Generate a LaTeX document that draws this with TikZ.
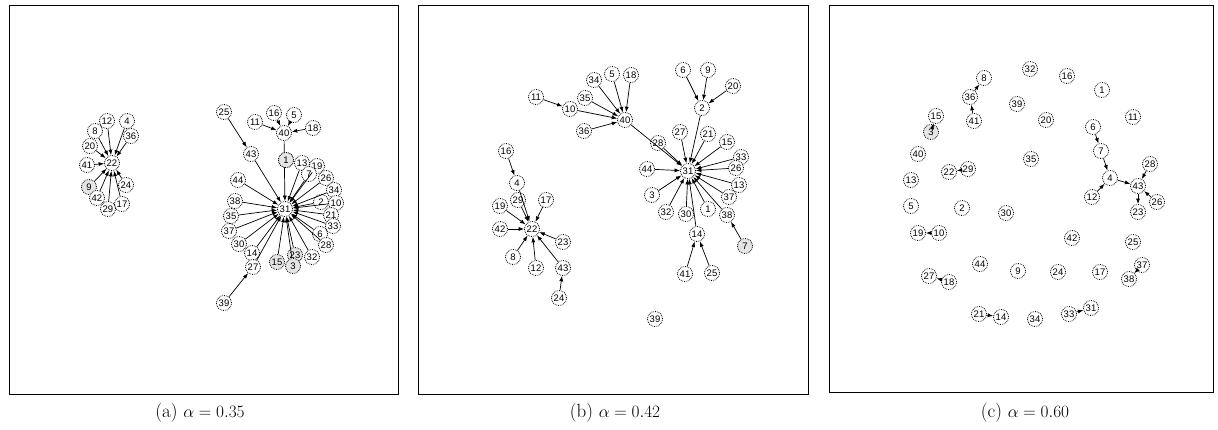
\documentclass[tikz,border=0pt]{standalone}
\usepackage{amsmath,amssymb}
\usepackage{fontspec}
\usepackage{tikz}
\usetikzlibrary{shapes.geometric, arrows.meta}
\newfontfamily\vtxfont{Liberation Sans}
\tikzstyle{vtx} = [circle, draw=black, densely dotted, line width=0.8pt, fill=white, minimum size=15pt, inner sep=0pt, font=\vtxfont\fontsize{9.5}{9.5}\selectfont]
\tikzstyle{greyvtx} = [vtx, fill=black!10]
\tikzstyle{conn} = [-{Latex[length=5.5pt,width=4pt]}, line width=0.7pt]
\tikzstyle{panel} = [draw, line width=0.9pt]
\tikzstyle{caption} = [font=\fontsize{19}{22}\selectfont]

\begin{document}
\begin{tikzpicture}[x=1pt, y=-1pt]
    \useasboundingbox (0,0) rectangle (1218,430);
    % Panels
    \draw [panel] (9,5) rectangle (398,394);
    \draw [panel] (418,5) rectangle (808,394);
    \draw [panel] (829,5) rectangle (1213,392);
    \node [caption] (capa) at (200,413) {(a) $\alpha = 0.35$};
    \node [caption] (capb) at (615,413) {(b) $\alpha = 0.42$};
    \node [caption] (capc) at (1025,413) {(c) $\alpha = 0.60$};

    % (a) left cluster
    \node [vtx] (a22) at (112,163) {22};
    \node [vtx] (a12) at (107,121) {12};
    \node [vtx] (a4) at (127,121) {4};
    \node [vtx] (a8) at (95,131) {8};
    \node [vtx] (a36) at (131,136) {36};
    \node [vtx] (a20) at (90,146) {20};
    \node [vtx] (a41) at (87,165) {41};
    \node [greyvtx] (a9) at (89,187) {9};
    \node [vtx] (a24) at (126,185) {24};
    \node [vtx] (a42) at (97,198) {42};
    \node [vtx] (a17) at (122,204) {17};
    \node [vtx] (a29) at (108,209) {29};

    % (a) right cluster
    \node [vtx] (a31) at (285,209) {31};
    \node [vtx] (a11) at (255,122) {11};
    \node [vtx] (a16) at (274,113) {16};
    \node [vtx] (a5) at (294,115) {5};
    \node [vtx] (a18) at (313,128) {18};
    \node [vtx] (a40) at (284,133) {40};
    \node [vtx] (a25) at (224,112) {25};
    \node [vtx] (a43) at (251,154) {43};
    \node [greyvtx] (a1) at (286,160) {1};
    \node [vtx] (a13) at (302,163) {13};
    \node [vtx] (a19) at (317,166) {19};
    \node [vtx] (a7) at (309,174) {7};
    \node [vtx] (a26) at (326,178) {26};
    \node [vtx] (a44) at (238,180) {44};
    \node [vtx] (a34) at (334,190) {34};
    \node [vtx] (a2) at (321,202) {2};
    \node [vtx] (a10) at (336,203) {10};
    \node [vtx] (a38) at (235,201) {38};
    \node [vtx] (a35) at (231,216) {35};
    \node [vtx] (a21) at (331,215) {21};
    \node [vtx] (a33) at (333,226) {33};
    \node [vtx] (a37) at (229,231) {37};
    \node [vtx] (a6) at (320,234) {6};
    \node [vtx] (a30) at (239,244) {30};
    \node [vtx] (a28) at (326,245) {28};
    \node [vtx] (a14) at (252,253) {14};
    \node [greyvtx] (a23) at (295,255) {23};
    \node [vtx] (a32) at (312,257) {32};
    \node [greyvtx] (a15) at (277,262) {15};
    \node [greyvtx] (a3) at (293,266) {3};
    \node [vtx] (a27) at (253,267) {27};
    \node [vtx] (a39) at (224,303) {39};

    % (a) connectors
    \draw [conn] (a12) -- (a22);
    \draw [conn] (a4) -- (a22);
    \draw [conn] (a8) -- (a22);
    \draw [conn] (a36) -- (a22);
    \draw [conn] (a20) -- (a22);
    \draw [conn] (a41) -- (a22);
    \draw [conn] (a9) -- (a22);
    \draw [conn] (a24) -- (a22);
    \draw [conn] (a42) -- (a22);
    \draw [conn] (a17) -- (a22);
    \draw [conn] (a29) -- (a22);
    \draw [conn] (a11) -- (a40);
    \draw [conn] (a16) -- (a40);
    \draw [conn] (a5) -- (a40);
    \draw [conn] (a18) -- (a40);
    \draw [conn] (a25) -- (a43);
    \draw [conn] (a39) -- (a27);
    \draw [conn] (a40) -- (a31);
    \draw [conn] (a43) -- (a31);
    \draw [conn] (a13) -- (a31);
    \draw [conn] (a19) -- (a31);
    \draw [conn] (a7) -- (a31);
    \draw [conn] (a26) -- (a31);
    \draw [conn] (a44) -- (a31);
    \draw [conn] (a34) -- (a31);
    \draw [conn] (a2) -- (a31);
    \draw [conn] (a10) -- (a31);
    \draw [conn] (a38) -- (a31);
    \draw [conn] (a35) -- (a31);
    \draw [conn] (a21) -- (a31);
    \draw [conn] (a33) -- (a31);
    \draw [conn] (a37) -- (a31);
    \draw [conn] (a6) -- (a31);
    \draw [conn] (a30) -- (a31);
    \draw [conn] (a28) -- (a31);
    \draw [conn] (a14) -- (a31);
    \draw [conn] (a23) -- (a31);
    \draw [conn] (a32) -- (a31);
    \draw [conn] (a15) -- (a31);
    \draw [conn] (a3) -- (a31);
    \draw [conn] (a27) -- (a31);
    \node [greyvtx] at (a1) {1};

    % (b) nodes
    \node [vtx] (b31) at (688,171) {31};
    \node [vtx] (b40) at (625,120) {40};
    \node [vtx] (b34) at (594,80) {34};
    \node [vtx] (b5) at (612,74) {5};
    \node [vtx] (b18) at (631,75) {18};
    \node [vtx] (b11) at (536,97) {11};
    \node [vtx] (b35) at (585,98) {35};
    \node [vtx] (b10) at (570,109) {10};
    \node [vtx] (b36) at (584,131) {36};
    \node [vtx] (b28) at (658,143) {28};
    \node [vtx] (b6) at (683,70) {6};
    \node [vtx] (b9) at (708,70) {9};
    \node [vtx] (b20) at (733,86) {20};
    \node [vtx] (b2) at (702,108) {2};
    \node [vtx] (b27) at (680,132) {27};
    \node [vtx] (b21) at (708,134) {21};
    \node [vtx] (b15) at (727,142) {15};
    \node [vtx] (b33) at (741,157) {33};
    \node [vtx] (b26) at (736,168) {26};
    \node [vtx] (b44) at (647,169) {44};
    \node [vtx] (b13) at (739,185) {13};
    \node [vtx] (b3) at (652,195) {3};
    \node [vtx] (b37) at (729,197) {37};
    \node [vtx] (b32) at (666,212) {32};
    \node [vtx] (b30) at (686,214) {30};
    \node [vtx] (b1) at (708,209) {1};
    \node [vtx] (b38) at (727,215) {38};
    \node [vtx] (b14) at (697,234) {14};
    \node [greyvtx] (b7) at (745,246) {7};
    \node [vtx] (b41) at (685,274) {41};
    \node [vtx] (b25) at (712,273) {25};
    \node [vtx] (b39) at (655,319) {39};
    \node [vtx] (b22) at (532,229) {22};
    \node [vtx] (b16) at (506,151) {16};
    \node [vtx] (b4) at (517,183) {4};
    \node [vtx] (b29) at (518,200) {29};
    \node [vtx] (b17) at (546,200) {17};
    \node [vtx] (b19) at (500,206) {19};
    \node [vtx] (b42) at (500,229) {42};
    \node [vtx] (b23) at (563,242) {23};
    \node [vtx] (b8) at (513,257) {8};
    \node [vtx] (b12) at (536,268) {12};
    \node [vtx] (b43) at (563,268) {43};
    \node [vtx] (b24) at (559,298) {24};

    % (b) connectors
    \draw [conn] (b11) -- (b10);
    \draw [conn] (b10) -- (b40);
    \draw [conn] (b34) -- (b40);
    \draw [conn] (b35) -- (b40);
    \draw [conn] (b5) -- (b40);
    \draw [conn] (b18) -- (b40);
    \draw [conn] (b36) -- (b40);
    \draw [conn] (b40) -- (b31);
    \draw [conn] (b28) -- (b31);
    \draw [conn] (b6) -- (b2);
    \draw [conn] (b9) -- (b2);
    \draw [conn] (b20) -- (b2);
    \draw [conn] (b2) -- (b31);
    \draw [conn] (b27) -- (b31);
    \draw [conn] (b21) -- (b31);
    \draw [conn] (b15) -- (b31);
    \draw [conn] (b33) -- (b31);
    \draw [conn] (b26) -- (b31);
    \draw [conn] (b44) -- (b31);
    \draw [conn] (b13) -- (b31);
    \draw [conn] (b3) -- (b31);
    \draw [conn] (b37) -- (b31);
    \draw [conn] (b32) -- (b31);
    \draw [conn] (b30) -- (b31);
    \draw [conn] (b1) -- (b31);
    \draw [conn] (b38) -- (b31);
    \draw [conn] (b14) -- (b31);
    \draw [conn] (b7) -- (b38);
    \draw [conn] (b41) -- (b14);
    \draw [conn] (b25) -- (b14);
    \draw [conn] (b16) -- (b4);
    \draw [conn] (b4) -- (b22);
    \draw [conn] (b29) -- (b22);
    \draw [conn] (b17) -- (b22);
    \draw [conn] (b19) -- (b22);
    \draw [conn] (b42) -- (b22);
    \draw [conn] (b23) -- (b22);
    \draw [conn] (b8) -- (b22);
    \draw [conn] (b12) -- (b22);
    \draw [conn] (b43) -- (b22);
    \draw [conn] (b24) -- (b43);

    % (c) nodes
    \node [vtx] (c8) at (984,78) {8};
    \node [vtx] (c32) at (1030,69) {32};
    \node [vtx] (c16) at (1067,76) {16};
    \node [vtx] (c1) at (1102,90) {1};
    \node [vtx] (c36) at (970,97) {36};
    \node [vtx] (c39) at (1017,104) {39};
    \node [vtx] (c15) at (936,116) {15};
    \node [vtx] (c41) at (974,121) {41};
    \node [vtx] (c20) at (1046,120) {20};
    \node [vtx] (c11) at (1133,117) {11};
    \node [greyvtx] (c3) at (931,132) {3};
    \node [vtx] (c6) at (1093,127) {6};
    \node [vtx] (c7) at (1101,151) {7};
    \node [vtx] (c40) at (918,154) {40};
    \node [vtx] (c35) at (1031,159) {35};
    \node [vtx] (c28) at (1150,164) {28};
    \node [vtx] (c22) at (949,172) {22};
    \node [vtx] (c29) at (968,169) {29};
    \node [vtx] (c4) at (1110,178) {4};
    \node [vtx] (c13) at (911,180) {13};
    \node [vtx] (c43) at (1138,186) {43};
    \node [vtx] (c12) at (1092,197) {12};
    \node [vtx] (c26) at (1157,202) {26};
    \node [vtx] (c5) at (911,206) {5};
    \node [vtx] (c2) at (962,208) {2};
    \node [vtx] (c30) at (1006,213) {30};
    \node [vtx] (c23) at (1138,212) {23};
    \node [vtx] (c19) at (918,233) {19};
    \node [vtx] (c10) at (939,233) {10};
    \node [vtx] (c42) at (1072,238) {42};
    \node [vtx] (c25) at (1133,242) {25};
    \node [vtx] (c44) at (980,264) {44};
    \node [vtx] (c37) at (1142,265) {37};
    \node [vtx] (c9) at (1018,271) {9};
    \node [vtx] (c24) at (1058,272) {24};
    \node [vtx] (c17) at (1100,272) {17};
    \node [vtx] (c27) at (929,276) {27};
    \node [vtx] (c38) at (1129,279) {38};
    \node [vtx] (c18) at (949,282) {18};
    \node [vtx] (c31) at (1091,308) {31};
    \node [vtx] (c21) at (979,314) {21};
    \node [vtx] (c14) at (1001,317) {14};
    \node [vtx] (c33) at (1069,314) {33};
    \node [vtx] (c34) at (1035,319) {34};

    % (c) connectors
    \draw [conn] (c41) -- (c36);
    \draw [conn] (c36) -- (c8);
    \draw [conn] (c3) -- (c15);
    \draw [conn] (c29) -- (c22);
    \draw [conn] (c10) -- (c19);
    \draw [conn] (c18) -- (c27);
    \draw [conn] (c21) -- (c14);
    \draw [conn] (c33) -- (c31);
    \draw [conn] (c37) -- (c38);
    \draw [conn] (c6) -- (c7);
    \draw [conn] (c7) -- (c4);
    \draw [conn] (c12) -- (c4);
    \draw [conn] (c4) -- (c43);
    \draw [conn] (c28) -- (c43);
    \draw [conn] (c26) -- (c43);
    \draw [conn] (c43) -- (c23);
\end{tikzpicture}
\end{document}
